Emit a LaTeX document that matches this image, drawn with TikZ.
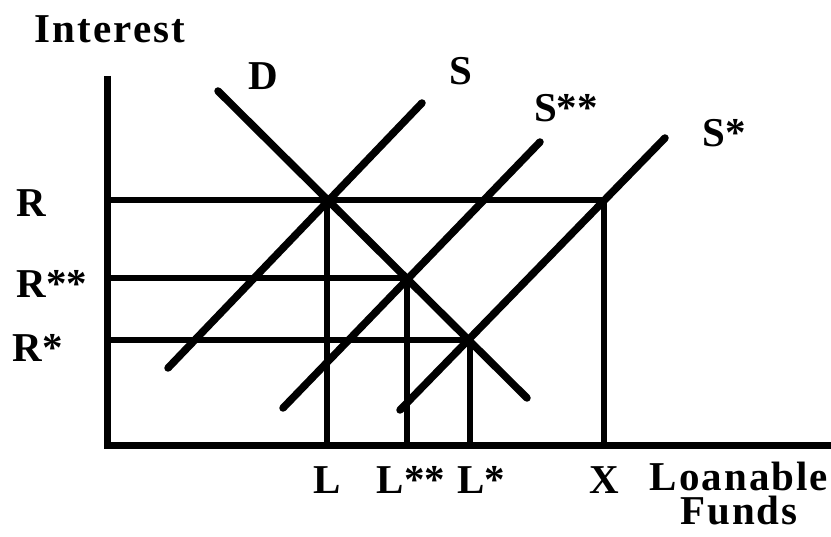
\documentclass[tikz,border=0pt]{standalone}
\usepackage{fontspec}
\setmainfont{Liberation Serif}
\begin{document}
\begin{tikzpicture}[x=1pt,y=-1pt,
  axisline/.style={line width=7pt},
  curve/.style={line width=7.5pt,line cap=round},
  guide/.style={line width=6.5pt},
  lab/.style={font=\bfseries\fontsize{41}{34}\selectfont, inner sep=0pt, anchor=base},
  widelab/.style={lab, font=\bfseries\fontsize{41}{34}\selectfont\addfontfeature{LetterSpace=5}}]
\useasboundingbox (0,0) rectangle (831,537);
% axes
\coordinate (ytop) at (107,76);
\coordinate (O) at (107,446);
\coordinate (xend) at (831,446);
\draw[axisline] (ytop) -- (O) -- (xend);
% curve end points
\coordinate (D1) at (218,91);   \coordinate (D2) at (527,398);
\coordinate (S1) at (168,368);  \coordinate (S2) at (422,103);
\coordinate (SS1) at (283,408); \coordinate (SS2) at (540,142);
\coordinate (SX1) at (400,410); \coordinate (SX2) at (665,138);
% equilibrium points
\coordinate (E1) at (327,200);
\coordinate (E2) at (407,278);
\coordinate (E3) at (470,340);
\coordinate (EX) at (604,200);
% axis feet
\coordinate (yR) at (107,200);   \coordinate (yRR) at (107,278);  \coordinate (yRS) at (107,340);
\coordinate (xL) at (327,446);   \coordinate (xLL) at (407,446);  \coordinate (xLS) at (470,446);
\coordinate (xX) at (604,446);
% guides
\draw[guide] (yR) -- (EX);
\draw[guide] (yRR) -- (E2);
\draw[guide] (yRS) -- (E3);
\draw[guide] (E1) -- (xL);
\draw[guide] (E2) -- (xLL);
\draw[guide] (E3) -- (xLS);
\draw[guide] (EX) -- (xX);
% curves
\draw[curve] (D1) -- (D2);
\draw[curve] (S1) -- (S2);
\draw[curve] (SS1) -- (SS2);
\draw[curve] (SX1) -- (SX2);
% labels
\node[widelab] (tInterest) at (110,43) {Interest};
\node[lab] (tD) at (263,90) {D};
\node[lab] (tS) at (461,85) {S};
\node[lab] (tSS) at (566,122) {S**};
\node[lab] (tSX) at (724,147) {S*};
\node[lab] (tR) at (31,217) {R};
\node[lab] (tRR) at (52,298) {R**};
\node[lab] (tRS) at (38,362) {R*};
\node[lab] (tL) at (327,494) {L};
\node[lab] (tLL) at (411,494) {L**};
\node[lab] (tLS) at (481,494) {L*};
\node[lab] (tX) at (604,494) {X};
\node[widelab, anchor=north, align=center] (tLoan) at (739,462) {Loanable\\Funds};
\end{tikzpicture}
\end{document}
